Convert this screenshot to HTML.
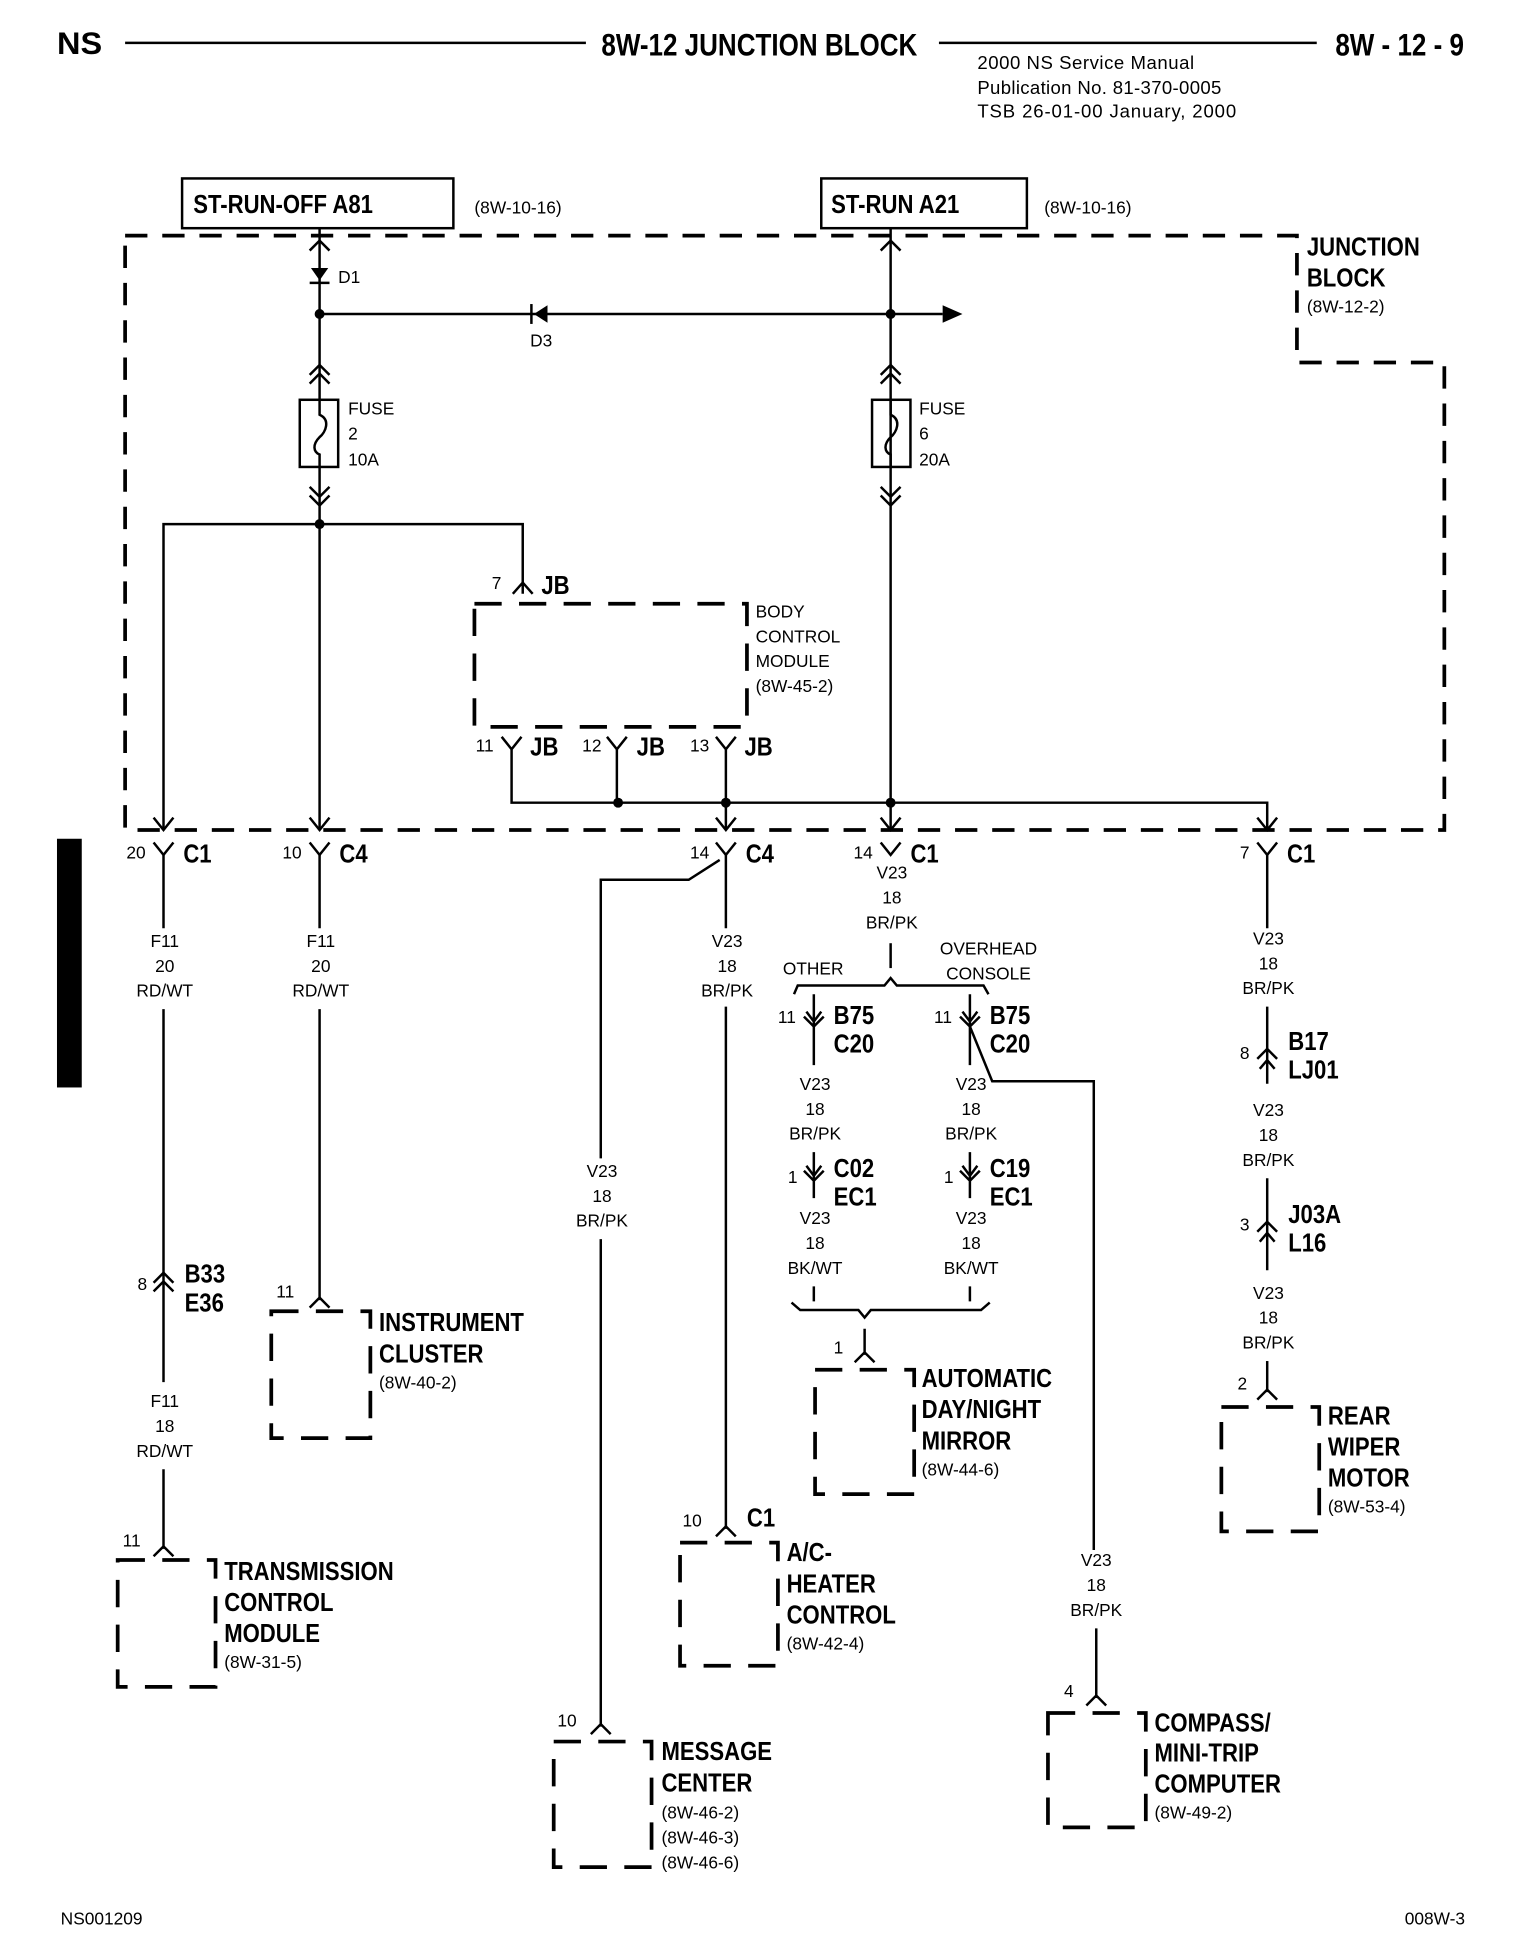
<!DOCTYPE html>
<html><head><meta charset="utf-8"><style>
html,body{margin:0;padding:0;background:#fff;}
svg{display:block}
text{font-family:"Liberation Sans Narrow","Liberation Sans",sans-serif;fill:#000}
.b{font-weight:bold;font-size:21px;transform-box:fill-box;transform-origin:0 50%;transform:scaleX(.85)}
.s{font-size:14px}
.t{font-size:15px}
.m{font-size:14px;text-anchor:middle}
.h{font-weight:bold;font-size:25px;transform-box:fill-box;transform-origin:0 50%;transform:scaleX(.84)}
.hc{transform-origin:50% 50%}
.w{stroke:#000;stroke-width:2;fill:none}
.d{stroke:#000;stroke-width:3;fill:none;stroke-dasharray:18 12}
.mb{stroke:#000;stroke-width:3;fill:none;stroke-dasharray:22 14}
</style></head><body>
<svg width="1536" height="1952" viewBox="0 0 1240 1576" preserveAspectRatio="none" xmlns="http://www.w3.org/2000/svg">
<g transform="translate(1,1.5) scale(1,1.004)">
<!-- header -->
<text x="45" y="42" class="h" style="transform:scaleX(1.05)">NS</text>
<line x1="100" y1="33" x2="472" y2="33" class="w" stroke-width="2.5"/>
<text x="612" y="43" class="h hc" text-anchor="middle">8W-12 JUNCTION BLOCK</text>
<line x1="757" y1="33" x2="1062" y2="33" class="w" stroke-width="2.5"/>
<text x="1077" y="43" class="h">8W - 12 - 9</text>
<text x="788" y="54" class="t" textLength="175" lengthAdjust="spacing">2000 NS Service Manual</text>
<text x="788" y="74" class="t" textLength="197" lengthAdjust="spacing">Publication No. 81-370-0005</text>
<text x="788" y="93" class="t" textLength="209" lengthAdjust="spacing">TSB 26-01-00   January, 2000</text>

<!-- top boxes -->
<rect x="146" y="142" width="219" height="40" class="w" stroke-width="2.5"/>
<text x="155" y="170" class="b" font-size="20">ST-RUN-OFF A81</text>
<text x="382" y="170" class="s">(8W-10-16)</text>
<rect x="662" y="142" width="166" height="40" class="w" stroke-width="2.5"/>
<text x="670" y="170" class="b" font-size="20">ST-RUN A21</text>
<text x="842" y="170" class="s">(8W-10-16)</text>

<!-- junction block dashed outline -->
<path d="M100,188 L1046,188 L1046,290 L1165,290 L1165,666 L100,666 Z" class="d"/>
<text x="1054" y="204" class="b" font-size="20">JUNCTION</text>
<text x="1054" y="229" class="b" font-size="20">BLOCK</text>
<text x="1054" y="250" class="s">(8W-12-2)</text>

<!-- left feed -->
<line x1="257" y1="182" x2="257" y2="320" class="w"/>
<path d="M249,200 L257,192 L265,200" class="w"/>
<path d="M250,214 L264,214 L257,224 Z" fill="#000"/>
<line x1="249" y1="226" x2="265" y2="226" class="w"/>
<text x="272" y="226" class="s">D1</text>
<circle cx="257" cy="251" r="4"/>
<line x1="257" y1="251" x2="760" y2="251" class="w"/>
<path d="M760,244 L776,251 L760,258 Z" fill="#000"/>
<path d="M430,251 L441,244 L441,258 Z" fill="#000"/>
<line x1="428" y1="243" x2="428" y2="259" class="w"/>
<text x="427" y="277" class="s">D3</text>
<circle cx="718" cy="251" r="4"/>
<!-- fuse 2 -->
<path d="M249,300 L257,292 L265,300 M249,307 L257,299 L265,307" class="w"/>
<rect x="241" y="320" width="31" height="54" class="w"/>
<path d="M257,320 L257,332 C266,336 262,346 257,350 C251,356 252,362 257,364 L257,374" class="w"/>
<line x1="257" y1="374" x2="257" y2="420" class="w"/>
<path d="M249,390 L257,398 L265,390 M249,397 L257,405 L265,397" class="w"/>
<text x="280" y="332" class="s">FUSE</text><text x="280" y="352" class="s">2</text><text x="280" y="373" class="s">10A</text>
<!-- right feed -->
<line x1="718" y1="182" x2="718" y2="644" class="w"/>
<path d="M710,200 L718,192 L726,200" class="w"/>
<path d="M710,300 L718,292 L726,300 M710,307 L718,299 L726,307" class="w"/>
<rect x="703" y="320" width="31" height="54" class="w" fill="#fff"/>
<path d="M718,320 L718,332 C727,336 723,346 718,350 C712,356 713,362 718,364 L718,374" class="w"/>
<path d="M710,390 L718,398 L726,390 M710,397 L718,405 L726,397" class="w"/>
<text x="741" y="332" class="s">FUSE</text><text x="741" y="352" class="s">6</text><text x="741" y="373" class="s">20A</text>

<!-- distribution -->
<circle cx="257" cy="420" r="4"/>
<path d="M131,666 L131,420 L421,420 L421,476" class="w"/>
<line x1="257" y1="420" x2="257" y2="666" class="w"/>
<path d="M413,476 L421,467 L429,476" class="w"/>
<text x="396" y="472" class="s">7</text>
<text x="436" y="476" class="b" font-size="20">JB</text>
<rect x="382" y="484" width="220" height="99" class="mb"/>
<text x="609" y="495" class="s">BODY</text>
<text x="609" y="515" class="s">CONTROL</text>
<text x="609" y="535" class="s">MODULE</text>
<text x="609" y="555" class="s">(8W-45-2)</text>
<!-- JB pins -->
<path d="M404,591 L412,601 L420,591 M412,601 L412,644 L1022,644 L1022,666" class="w"/>
<path d="M489,591 L497,601 L505,591 M497,601 L497,644" class="w"/>
<path d="M577,591 L585,601 L593,591 M585,601 L585,666" class="w"/>
<text x="383" y="603" class="s">11</text><text x="427" y="606" class="b" font-size="20">JB</text>
<text x="469" y="603" class="s">12</text><text x="513" y="606" class="b" font-size="20">JB</text>
<text x="556" y="603" class="s">13</text><text x="600" y="606" class="b" font-size="20">JB</text>
<circle cx="498" cy="644" r="4"/><circle cx="585" cy="644" r="4"/><circle cx="718" cy="644" r="4"/>
<line x1="718" y1="644" x2="718" y2="666" class="w"/>
<path d="M123,656 L131,666 L139,656 M249,656 L257,666 L265,656 M577,656 L585,666 L593,656 M710,656 L718,666 L726,656 M1014,656 L1022,666 L1030,656" class="w"/>
<path d="M123,676 L131,686 L139,676 M249,676 L257,686 L265,676 M577,676 L585,686 L593,676 M710,676 L718,686 L726,676 M1014,676 L1022,686 L1030,676" class="w"/>
<text x="101" y="689" class="s">20</text><text x="147" y="692" class="b" font-size="20">C1</text>
<text x="227" y="689" class="s">10</text><text x="273" y="692" class="b" font-size="20">C4</text>
<text x="556" y="689" class="s">14</text><text x="601" y="692" class="b" font-size="20">C4</text>
<text x="688" y="689" class="s">14</text><text x="734" y="692" class="b" font-size="20">C1</text>
<text x="1000" y="689" class="s">7</text><text x="1038" y="692" class="b" font-size="20">C1</text>

<!-- wire 131 -->
<line x1="131" y1="686" x2="131" y2="745" class="w"/>
<text x="132" y="760" class="m">F11</text><text x="132" y="780" class="m">20</text><text x="132" y="800" class="m">RD/WT</text>
<line x1="131" y1="810" x2="131" y2="1110" class="w"/>
<path d="M123,1030 L131,1022 L139,1030 M123,1037 L131,1029 L139,1037" class="w"/>
<text x="110" y="1036" class="s">8</text>
<text x="148" y="1030" class="b" font-size="20">B33</text><text x="148" y="1053" class="b" font-size="20">E36</text>
<text x="132" y="1130" class="m">F11</text><text x="132" y="1150" class="m">18</text><text x="132" y="1170" class="m">RD/WT</text>
<line x1="131" y1="1180" x2="131" y2="1244" class="w"/>
<path d="M123,1250 L131,1242 L139,1250" class="w"/>
<text x="98" y="1242" class="s">11</text>
<rect x="94" y="1253" width="79" height="102" class="mb"/>
<text x="180" y="1269" class="b" font-size="20">TRANSMISSION</text>
<text x="180" y="1294" class="b" font-size="20">CONTROL</text>
<text x="180" y="1319" class="b" font-size="20">MODULE</text>
<text x="180" y="1340" class="s">(8W-31-5)</text>

<!-- wire 257 -->
<line x1="257" y1="686" x2="257" y2="745" class="w"/>
<text x="258" y="760" class="m">F11</text><text x="258" y="780" class="m">20</text><text x="258" y="800" class="m">RD/WT</text>
<line x1="257" y1="810" x2="257" y2="1044" class="w"/>
<path d="M249,1050 L257,1042 L265,1050" class="w"/>
<text x="222" y="1042" class="s">11</text>
<rect x="218" y="1053" width="80" height="102" class="mb"/>
<text x="305" y="1069" class="b" font-size="20">INSTRUMENT</text>
<text x="305" y="1094" class="b" font-size="20">CLUSTER</text>
<text x="305" y="1115" class="s">(8W-40-2)</text>

<!-- wire 585 branches -->
<path d="M580,690 L555,706 L484,706 L484,930" class="w"/>
<text x="485" y="945" class="m">V23</text><text x="485" y="965" class="m">18</text><text x="485" y="985" class="m">BR/PK</text>
<line x1="484" y1="995" x2="484" y2="1387" class="w"/>
<path d="M476,1393 L484,1385 L492,1393" class="w"/>
<text x="449" y="1387" class="s">10</text>
<rect x="446" y="1399" width="79" height="101" class="mb"/>
<text x="533" y="1414" class="b" font-size="20">MESSAGE</text>
<text x="533" y="1439" class="b" font-size="20">CENTER</text>
<text x="533" y="1461" class="s">(8W-46-2)</text>
<text x="533" y="1481" class="s">(8W-46-3)</text>
<text x="533" y="1501" class="s">(8W-46-6)</text>

<line x1="585" y1="686" x2="585" y2="745" class="w"/>
<text x="586" y="760" class="m">V23</text><text x="586" y="780" class="m">18</text><text x="586" y="800" class="m">BR/PK</text>
<line x1="585" y1="808" x2="585" y2="1228" class="w"/>
<path d="M577,1234 L585,1226 L593,1234" class="w"/>
<text x="550" y="1226" class="s">10</text><text x="602" y="1226" class="b" font-size="20">C1</text>
<rect x="548" y="1239" width="79" height="99" class="mb"/>
<text x="634" y="1254" class="b" font-size="20">A/C-</text>
<text x="634" y="1279" class="b" font-size="20">HEATER</text>
<text x="634" y="1304" class="b" font-size="20">CONTROL</text>
<text x="634" y="1325" class="s">(8W-42-4)</text>

<!-- wire 718 -->
<text x="719" y="705" class="m">V23</text><text x="719" y="725" class="m">18</text><text x="719" y="745" class="m">BR/PK</text>
<line x1="718" y1="757" x2="718" y2="777" class="w"/>
<path d="M640,798 L643,791 L713,791 L718,785 L723,791 L793,791 L797,798" class="w"/>
<text x="631" y="782" class="s">OTHER</text>
<text x="797" y="766" class="m">OVERHEAD</text><text x="797" y="786" class="m">CONSOLE</text>
<path d="M656,798 L656,855 M650,812 L656,820 L662,812 M648,816 L656,824 L664,816" class="w"/>
<text x="627" y="821" class="s">11</text>
<text x="672" y="822" class="b" font-size="20">B75</text><text x="672" y="845" class="b" font-size="20">C20</text>
<text x="657" y="875" class="m">V23</text><text x="657" y="895" class="m">18</text><text x="657" y="915" class="m">BR/PK</text>
<path d="M656,925 L656,962 M650,936 L656,944 L662,936 M648,940 L656,948 L664,940" class="w"/>
<text x="635" y="950" class="s">1</text>
<text x="672" y="945" class="b" font-size="20">C02</text><text x="672" y="968" class="b" font-size="20">EC1</text>
<text x="657" y="983" class="m">V23</text><text x="657" y="1003" class="m">18</text><text x="657" y="1023" class="m">BK/WT</text>
<path d="M782,798 L782,855 M776,812 L782,820 L788,812 M774,816 L782,824 L790,816 M782,824 L800,868 L882,868 L882,1245" class="w"/>
<text x="753" y="821" class="s">11</text>
<text x="798" y="822" class="b" font-size="20">B75</text><text x="798" y="845" class="b" font-size="20">C20</text>
<text x="783" y="875" class="m">V23</text><text x="783" y="895" class="m">18</text><text x="783" y="915" class="m">BR/PK</text>
<path d="M782,925 L782,962 M776,936 L782,944 L788,936 M774,940 L782,948 L790,940" class="w"/>
<text x="761" y="950" class="s">1</text>
<text x="798" y="945" class="b" font-size="20">C19</text><text x="798" y="968" class="b" font-size="20">EC1</text>
<text x="783" y="983" class="m">V23</text><text x="783" y="1003" class="m">18</text><text x="783" y="1023" class="m">BK/WT</text>
<path d="M656,1033 L656,1045 M782,1033 L782,1045" class="w"/>
<path d="M638,1046 L645,1052 L692,1052 L697,1058 L702,1052 L749,1052 L756,1052 L791,1052 L798,1046" class="w"/>
<path d="M697,1067 L697,1088 M689,1094 L697,1086 L705,1094" class="w"/>
<text x="672" y="1087" class="s">1</text>
<rect x="657" y="1100" width="80" height="100" class="mb"/>
<text x="743" y="1114" class="b" font-size="20">AUTOMATIC</text>
<text x="743" y="1139" class="b" font-size="20">DAY/NIGHT</text>
<text x="743" y="1164" class="b" font-size="20">MIRROR</text>
<text x="743" y="1185" class="s">(8W-44-6)</text>
<text x="884" y="1258" class="m">V23</text><text x="884" y="1278" class="m">18</text><text x="884" y="1298" class="m">BR/PK</text>
<line x1="884" y1="1308" x2="884" y2="1364" class="w"/>
<path d="M876,1370 L884,1362 L892,1370" class="w"/>
<text x="858" y="1363" class="s">4</text>
<rect x="845" y="1376" width="79" height="92" class="mb"/>
<text x="931" y="1391" class="b" font-size="20">COMPASS/</text>
<text x="931" y="1415" class="b" font-size="20">MINI-TRIP</text>
<text x="931" y="1440" class="b" font-size="20">COMPUTER</text>
<text x="931" y="1461" class="s">(8W-49-2)</text>

<!-- wire 1022 -->
<line x1="1022" y1="686" x2="1022" y2="745" class="w"/>
<text x="1023" y="758" class="m">V23</text><text x="1023" y="778" class="m">18</text><text x="1023" y="798" class="m">BR/PK</text>
<line x1="1022" y1="808" x2="1022" y2="870" class="w"/>
<path d="M1014,850 L1022,842 L1030,850 M1016,858 L1022,851 L1028,858" class="w"/>
<text x="1000" y="850" class="s">8</text>
<text x="1039" y="843" class="b" font-size="20">B17</text><text x="1039" y="866" class="b" font-size="20">LJ01</text>
<text x="1023" y="896" class="m">V23</text><text x="1023" y="916" class="m">18</text><text x="1023" y="936" class="m">BR/PK</text>
<line x1="1022" y1="946" x2="1022" y2="1020" class="w"/>
<path d="M1014,989 L1022,981 L1030,989 M1016,997 L1022,990 L1028,997" class="w"/>
<text x="1000" y="988" class="s">3</text>
<text x="1039" y="982" class="b" font-size="20">J03A</text><text x="1039" y="1005" class="b" font-size="20">L16</text>
<text x="1023" y="1043" class="m">V23</text><text x="1023" y="1063" class="m">18</text><text x="1023" y="1083" class="m">BR/PK</text>
<line x1="1022" y1="1093" x2="1022" y2="1118" class="w"/>
<path d="M1014,1124 L1022,1116 L1030,1124" class="w"/>
<text x="998" y="1116" class="s">2</text>
<rect x="985" y="1130" width="79" height="100" class="mb"/>
<text x="1071" y="1144" class="b" font-size="20">REAR</text>
<text x="1071" y="1169" class="b" font-size="20">WIPER</text>
<text x="1071" y="1194" class="b" font-size="20">MOTOR</text>
<text x="1071" y="1215" class="s">(8W-53-4)</text>

<rect x="45" y="673" width="20" height="200" fill="#000"/>
<text x="48" y="1546" class="s">NS001209</text>
<text x="1133" y="1546" class="s">008W-3</text>
</g>
</svg>
</body></html>
